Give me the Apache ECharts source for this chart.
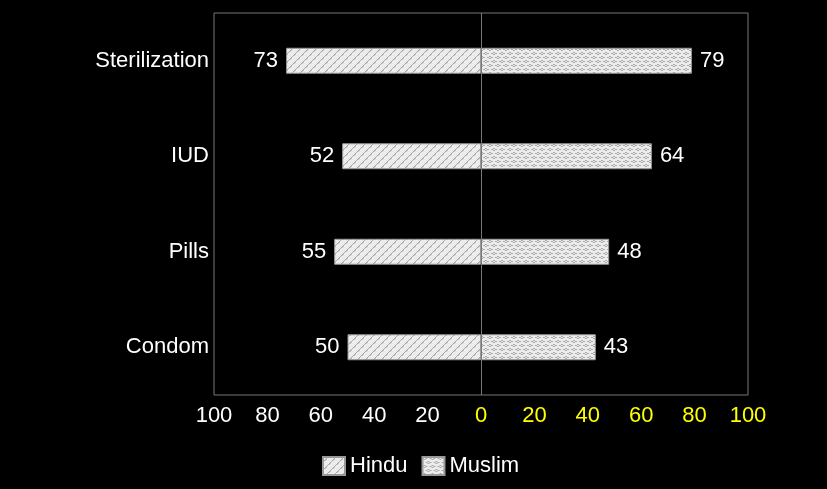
<!DOCTYPE html>
<html>
<head>
<meta charset="utf-8">
<script src="https://cdn.jsdelivr.net/npm/echarts@6/dist/echarts.min.js"></script>
<style>
  html, body { margin: 0; padding: 0; background: #000; }
  #chart { width: 827px; height: 489px; }
</style>
</head>
<body>
<div id="chart"></div>
<script>
// Contraceptive method use by religion (%)
const methods = ['Sterilization', 'IUD', 'Pills', 'Condom'];
const hindu = [73, 52, 55, 50];
const muslim = [79, 64, 48, 43];
const seriesNames = ['Hindu', 'Muslim'];

// Hatch textures for the two series
function makePattern(kind) {
  const c = document.createElement('canvas');
  c.width = 8; c.height = 8;
  const g = c.getContext('2d');
  g.fillStyle = '#ececec';
  g.fillRect(0, 0, 8, 8);
  g.fillStyle = '#a8a8a8';
  if (kind === 'diag') {
    // short dashed diagonals
    const pts = [[1,3],[2,2],[3,1],[5,7],[6,6],[7,5],[0,4],[4,0]];
    pts.forEach(p => g.fillRect(p[0], p[1], 1, 1));
    g.fillStyle = '#c4c4c4';
    [[2,3],[3,2],[6,7],[7,6]].forEach(p => g.fillRect(p[0], p[1], 1, 1));
  } else {
    // woven chain-like texture
    const pts = [[0,1],[1,0],[2,0],[3,1],[1,2],[2,2],
                 [4,5],[5,4],[6,4],[7,5],[5,6],[6,6],
                 [0,5],[3,5],[4,1],[7,1]];
    pts.forEach(p => g.fillRect(p[0], p[1], 1, 1));
  }
  return { image: c, repeat: 'repeat' };
}
const hinduFill = makePattern('diag');
const muslimFill = makePattern('weave');

const chart = echarts.init(document.getElementById('chart'));
const font = '"Liberation Sans", Arial, sans-serif';
const fs = 22;

chart.setOption({
  backgroundColor: '#000',
  animation: false,
  grid: {
    left: 214, right: 79, top: 13, bottom: 94,
    show: true, borderColor: '#777', borderWidth: 1, backgroundColor: 'transparent'
  },
  legend: {
    top: 450,
    left: 317,
    icon: 'rect',
    itemWidth: 22,
    itemHeight: 18,
    itemGap: 14,
    textStyle: { color: '#fff', fontSize: fs, fontFamily: font },
    data: seriesNames
  },
  xAxis: {
    type: 'value',
    min: -100, max: 100, interval: 20,
    axisLine: { show: false },
    axisTick: { show: false },
    splitLine: { show: false },
    axisLabel: {
      margin: 10,
      fontSize: fs, fontFamily: font,
      formatter: v => v >= 0 ? '{y|' + v + '}' : '{w|' + (-v) + '}',
      rich: {
        y: { color: '#ffff00', fontSize: fs, fontFamily: font },
        w: { color: '#fff', fontSize: fs, fontFamily: font }
      }
    }
  },
  yAxis: {
    type: 'category',
    data: methods,
    inverse: true,
    axisLine: { show: false },
    axisTick: { show: false },
    axisLabel: { color: '#fff', fontSize: fs, fontFamily: font, margin: 5 }
  },
  series: [
    {
      name: seriesNames[0],
      type: 'bar',
      data: hindu.map(v => -v),
      barWidth: 26,
      barGap: '-100%',
      itemStyle: { color: hinduFill, borderColor: '#999', borderWidth: 1 },
      label: {
        show: true, position: 'left', distance: 8,
        color: '#fff', fontSize: fs, fontFamily: font,
        formatter: p => String(-p.value)
      },
      markLine: {
        silent: true, symbol: 'none', label: { show: false },
        lineStyle: { color: '#777', width: 1, type: 'solid' },
        data: [{ xAxis: 0 }]
      }
    },
    {
      name: seriesNames[1],
      type: 'bar',
      data: muslim,
      barWidth: 26,
      itemStyle: { color: muslimFill, borderColor: '#999', borderWidth: 1 },
      label: {
        show: true, position: 'right', distance: 8,
        color: '#fff', fontSize: fs, fontFamily: font
      }
    }
  ]
});
</script>
</body>
</html>
